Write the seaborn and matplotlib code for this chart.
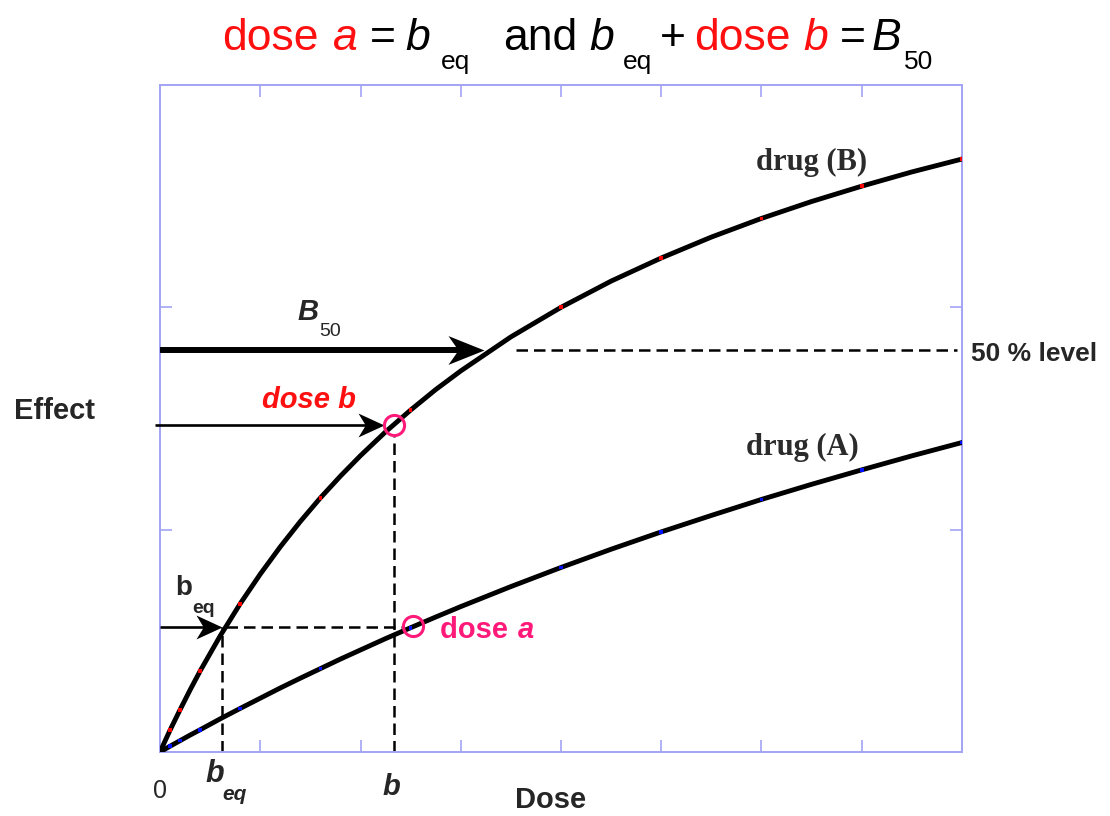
import matplotlib
matplotlib.use("Agg")
import matplotlib.pyplot as plt
from matplotlib.path import Path
import pandas as pd
import seaborn as sns

# ---- curve data (dose vs effect) -------------------------------------------
dose = [0, 0.1, 0.2, 0.3, 0.4, 0.6, 0.8, 1.0, 1.2, 1.4, 1.6, 1.8, 2.0, 2.25,
        2.5, 2.75, 3.0, 3.5, 4.0, 4.5, 5.0, 5.5, 6.0, 6.5, 7.0, 7.5, 8.0]
effect_b = [0, 0.098, 0.190, 0.279, 0.364, 0.522, 0.667, 0.800, 0.923, 1.037,
            1.143, 1.241, 1.333, 1.440, 1.538, 1.630, 1.714, 1.867, 2.000,
            2.118, 2.222, 2.316, 2.400, 2.476, 2.545, 2.609, 2.667]
effect_a = [0, 0.026, 0.051, 0.076, 0.100, 0.149, 0.196, 0.242, 0.288, 0.332,
            0.375, 0.418, 0.459, 0.510, 0.559, 0.607, 0.654, 0.744, 0.830,
            0.912, 0.990, 1.064, 1.136, 1.204, 1.269, 1.332, 1.392]
marked_dose = [0.1, 0.2, 0.4, 0.8, 1.6, 2.5, 4.0, 5.0, 6.0, 7.0, 8.0]

# ---- annotated quantities ---------------------------------------------------
b_eq_dose = 0.62
b_eq_effect = 0.56
dose_b = 2.33
dose_b_effect = 1.47
dose_a_pos = 2.52
dose_a_effect = 0.565
level_50 = 1.81
b50_tip = 3.23
level_50_start = 3.55
level_50_end = 7.95

x_ticks = [1, 2, 3, 4, 5, 6, 7]
y_ticks = [1, 2]

RED = "#ff1010"
PINK = "#ff1a7a"
FRAME = "#a3a3f5"
W, H = 1110, 816

sns.set_theme(style="white")
plt.rcParams["font.family"] = ["Liberation Sans", "DejaVu Sans"]

fig = plt.figure(figsize=(W / 100, H / 100), dpi=100)
ax = fig.add_axes([160 / W, 64 / H, 802 / W, 667 / H])

n = len(dose)
curves = pd.DataFrame({
    "dose": dose + dose,
    "effect": effect_b + effect_a,
    "drug": ["B"] * n + ["A"] * n,
})
sns.lineplot(data=curves, x="dose", y="effect", hue="drug",
             palette={"A": "black", "B": "black"}, linewidth=3.5,
             estimator=None, sort=False, legend=False, ax=ax, zorder=3)
marks = curves[curves["dose"].isin(marked_dose)]
sns.scatterplot(data=marks, x="dose", y="effect", hue="drug",
                palette={"A": "#0010ff", "B": "#ff0000"}, marker="s", s=7,
                linewidth=0, legend=False, ax=ax, zorder=4)

ax.set_xlim(0, 8)
ax.set_ylim(0, 3)
ax.set_xticks(x_ticks)
ax.set_yticks(y_ticks)
ax.set_xlabel("")
ax.set_ylabel("")
ax.tick_params(which="both", direction="in", length=8.6, width=1.2,
               color=FRAME, top=True, bottom=True, left=True, right=True,
               labelbottom=False, labelleft=False)
for sp in ax.spines.values():
    sp.set_color(FRAME)
    sp.set_linewidth(1.4)
    sp.set_visible(True)

px_x = 8 / 802   # data units per pixel
px_y = 3 / 667


def stealth(half_width, notch=0.72):
    verts = [(0, 0), (-1, half_width), (-notch, 0), (-1, -half_width), (0, 0)]
    codes = [Path.MOVETO, Path.LINETO, Path.LINETO, Path.LINETO, Path.CLOSEPOLY]
    return Path(verts, codes)


def arrow(x0, x1, y, lw, head_px, half_width):
    shaft_end = x1 - 0.6 * head_px * px_x
    ax.plot([x0, shaft_end], [y, y], color="black", lw=lw,
            solid_capstyle="butt", clip_on=False, zorder=5)
    ax.plot([x1], [y], marker=stealth(half_width), color="black",
            markersize=2 * head_px * 0.72, markeredgewidth=0,
            clip_on=False, zorder=5)


def dashed(xs, ys):
    ax.plot(xs, ys, color="black", lw=1.8, linestyle=(0, (4.6, 2.4)),
            dash_capstyle="butt", zorder=2, clip_on=False)


# guide lines
dashed([b_eq_dose + 4 * px_x, dose_b + 8 * px_x], [b_eq_effect, b_eq_effect])
dashed([b_eq_dose, b_eq_dose], [0, b_eq_effect])
dashed([dose_b, dose_b], [0, dose_b_effect - 11 * px_y])
dashed([level_50_start, level_50_end], [level_50, level_50])

# arrows from the effect axis
arrow(0.0, b50_tip, level_50, 4.3, 36, 0.40)
arrow(-0.05, dose_b - 10 * px_x, dose_b_effect, 1.9, 26, 0.46)
arrow(0.0, b_eq_dose, b_eq_effect, 1.9, 26, 0.46)

# open circles at the two doses
ax.plot([dose_b, dose_a_pos], [dose_b_effect, dose_a_effect], linestyle="none",
        marker="o", markersize=14.5, markerfacecolor="none",
        markeredgecolor=PINK, markeredgewidth=2.2, zorder=6)


def ftxt(x, y, s, **kw):
    return fig.text(x / W, 1 - y / H, s, **kw)


# labels inside and around the plot
ftxt(756, 170, "drug (B)", family="Liberation Serif", weight="bold",
     size=22, color="#2b2b2b", va="baseline")
ftxt(746, 455, "drug (A)", family="Liberation Serif", weight="bold",
     size=22, color="#2b2b2b", va="baseline")
ftxt(297, 320, "B", weight="bold", style="italic", size=21, va="baseline")
ftxt(319, 336, "50", size=14, va="baseline")
ftxt(262, 408, "dose b", weight="bold", style="italic", size=21, color=RED,
     va="baseline")
ftxt(175, 595, "b", weight="bold", size=20, va="baseline")
ftxt(192, 613, "eq", weight="bold", size=14, va="baseline")
ftxt(440, 638, "dose ", weight="bold", size=21, color=PINK, va="baseline")
ftxt(518, 638, "a", weight="bold", style="italic", size=21, color=PINK,
     va="baseline")
ftxt(971, 361, "50 % level", weight="bold", size=19, va="baseline")
ftxt(55, 411, "Effect", weight="bold", size=21, ha="center", va="center")
ftxt(551, 800, "Dose", weight="bold", size=21, ha="center", va="center")
ftxt(160, 791, "0", size=18, ha="center", va="center")
ftxt(205, 782, "b", weight="bold", style="italic", size=22, va="baseline")
ftxt(222, 800, "eq", weight="bold", style="italic", size=15, va="baseline")
ftxt(383, 795, "b", weight="bold", style="italic", size=21, va="baseline")

# title pieces: (left edge px, text, colour, style, subscript)
title_parts = [
    (222, "dose", RED, "normal", False),
    (333, "a", RED, "italic", False),
    (370, "=", "black", "normal", False),
    (405, "b", "black", "italic", False),
    (441, "eq", "black", "normal", True),
    (503, "and", "black", "normal", False),
    (589, "b", "black", "italic", False),
    (623, "eq", "black", "normal", True),
    (660, "+", "black", "normal", False),
    (694, "dose", RED, "normal", False),
    (803, "b", RED, "italic", False),
    (840, "=", "black", "normal", False),
    (872, "B", "black", "italic", False),
    (904, "50", "black", "normal", True),
]
for x, text, color, style, sub in title_parts:
    ftxt(x, 69 if sub else 50, text, color=color, style=style,
         size=19 if sub else 32, va="baseline")

fig.savefig("out.png", dpi=100)
